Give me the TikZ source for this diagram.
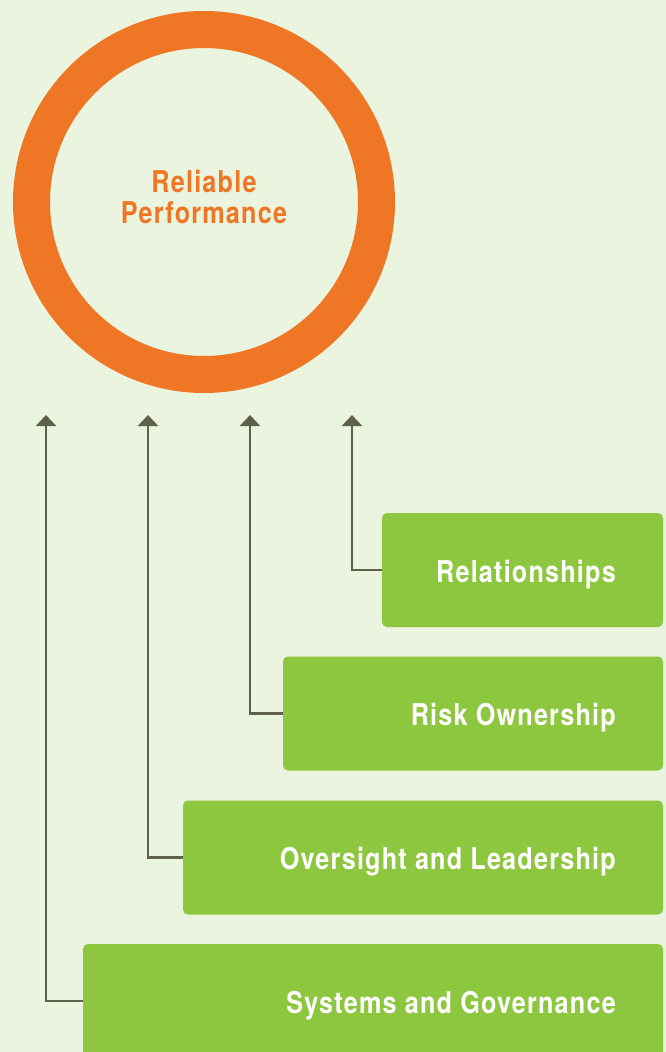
\documentclass[tikz,border=0pt]{standalone}
\usepackage{fontspec}
\setmainfont{TeX Gyre Heros}[FakeStretch=0.84, LetterSpace=4]
\usetikzlibrary{arrows.meta}

\definecolor{paleback}{HTML}{EAF4DF}
\definecolor{ringorange}{HTML}{EF7624}
\definecolor{leafgreen}{HTML}{8DC63F}
\definecolor{linkgrey}{HTML}{5E6049}

\tikzset{
	ring/.style={circle, draw=ringorange, line width=37pt, minimum size=345pt},
	ringtext/.style={text=ringorange, align=center, yshift=5pt, font=\bfseries\fontsize{30}{31}\selectfont},
	pillar/.style={rectangle, rounded corners=5pt, fill=leafgreen, minimum height=114pt, inner sep=0pt},
	pillartext/.style={anchor=base east, text=white, inner sep=0pt, font=\bfseries\fontsize{30}{32}\selectfont},
	link/.style={linkgrey, line width=2.5pt, -{Triangle[width=20pt, length=11pt]}}
}

\begin{document}
\begin{tikzpicture}[x=1pt, y=-1pt]
				% Canvas
				\fill[paleback] (0,0) rectangle (666,1052);
				\useasboundingbox (0,0) rectangle (666,1052);
				\clip (0,0) rectangle (666,1052);
				
				% The goal ring
				\node[ring, label={[ringtext]center:Reliable\\Performance}] (goal) at (204,202) {};
				
				% Arrow heads under the ring
				\coordinate (tipA) at (46,415);
				\coordinate (tipB) at (148,415);
				\coordinate (tipC) at (250,415);
				\coordinate (tipD) at (352,415);
				
				% Stacked boxes, all flush on the right
				\node[pillar, minimum width=281pt] (relations) at (522.5,570) {};
				\node[pillar, minimum width=380pt] (risk) at (473,713.5) {};
				\node[pillar, minimum width=480pt] (oversight) at (423,857.5) {};
				\node[pillar, minimum width=580pt] (systems) at (373,1001) {};
				
				% Box labels
				\node[pillartext] at (616,582) {Relationships};
				\node[pillartext] at (616,725.5) {Risk Ownership};
				\node[pillartext] at (616,869.5) {Oversight and Leadership};
				\node[pillartext] at (616,1013) {Systems and Governance};
				
				% Connectors up to the ring
				\draw[link] (relations.west) -| (tipD);
				\draw[link] (risk.west) -| (tipC);
				\draw[link] (oversight.west) -| (tipB);
				\draw[link] (systems.west) -| (tipA);
			\end{tikzpicture}
\end{document}
